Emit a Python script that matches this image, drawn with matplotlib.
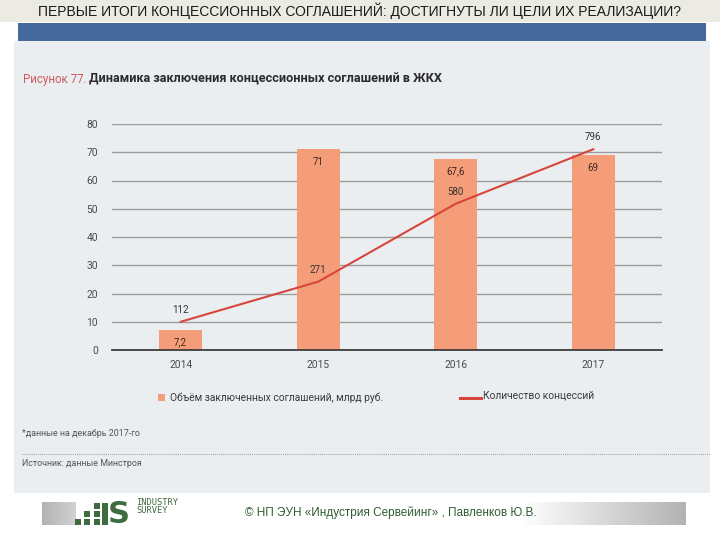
import numpy as np
import matplotlib
matplotlib.use("Agg")
import matplotlib.pyplot as plt
from matplotlib.patches import Rectangle
from matplotlib.lines import Line2D

plt.rcParams["font.family"] = ["Roboto", "DejaVu Sans"]

# ── данные ──────────────────────────────────────────────────────────────
years = ["2014", "2015", "2016", "2017"]
volume = [7.2, 71, 67.6, 69]          # млрд руб.
count = [112, 271, 580, 796]          # количество концессий
y_ticks = [0, 10, 20, 30, 40, 50, 60, 70, 80]

header = "ПЕРВЫЕ ИТОГИ КОНЦЕССИОННЫХ СОГЛАШЕНИЙ: ДОСТИГНУТЫ ЛИ ЦЕЛИ ИХ РЕАЛИЗАЦИИ?"
fig_no = "Рисунок 77."
title = "Динамика заключения концессионных соглашений в ЖКХ"
legend_bar = "Объём заключенных соглашений, млрд руб."
legend_line = "Количество концессий"
note = "*данные на декабрь 2017-го"
source = "Источник: данные Минстроя"
copyright_txt = "© НП ЭУН «Индустрия Сервейинг» , Павленков Ю.В."

_BAR = "#f59d79"
_LINE = "#d8453d"
_PANEL = "#ebeef0"
_GRID = "#9c9c9c"
_TXT = "#4a4a4a"

W, H = 720, 540


def fx(x):
    return x / W


def fy(y):
    return 1 - y / H


def rect(x0, y0, x1, y1, **kw):
    fig.patches.append(Rectangle((fx(x0), fy(y1)), fx(x1) - fx(x0), fy(y0) - fy(y1),
                                 transform=fig.transFigure, **kw))


fig = plt.figure(figsize=(7.2, 5.4), dpi=100, facecolor="white")

# ── шапка слайда (фон — под осями) ────────────────────────────────────
rect(0, 0, 720, 22, facecolor="#ecebe3", edgecolor="none", zorder=-5)
fig.text(fx(360), fy(11), header, ha="center", va="center", fontsize=10,
         color="#1a1a1a", family=["Liberation Sans Narrow", "Liberation Sans", "DejaVu Sans"])
rect(18, 23, 706, 41, facecolor="#45699a", edgecolor="none", zorder=-5)
rect(14, 41, 710, 493, facecolor=_PANEL, edgecolor="none", zorder=-5)

# ── заголовок рисунка ──────────────────────────────────────────────────
fig.text(fx(23), fy(79), fig_no, ha="left", va="center", fontsize=8.3, color="#d0595c")
fig.text(fx(89), fy(79), title, ha="left", va="center", fontsize=9.1,
         color="#2b2b2b", fontweight="bold")

# ── основной график ────────────────────────────────────────────────────
ax = fig.add_axes([fx(112), fy(350), fx(662) - fx(112), fy(124) - fy(350)])
ax.set_facecolor("none")
x = np.arange(len(years))
ax.bar(x, volume, width=0.31, color=_BAR, zorder=3)
ax.set_xlim(-0.5, len(years) - 0.5)
ax.set_ylim(0, 80)
ax.set_yticks(y_ticks)
ax.set_xticks(x)
ax.set_xticklabels(years)
ax.yaxis.grid(True, color=_GRID, linewidth=1.0, zorder=0)
ax.set_axisbelow(True)
for side in ("top", "right", "left"):
    ax.spines[side].set_visible(False)
ax.spines["bottom"].set_color("#3c3c3c")
ax.spines["bottom"].set_linewidth(1.3)
ax.spines["bottom"].set_zorder(4)
ax.tick_params(axis="both", length=0, labelsize=7.4, colors=_TXT)
ax.tick_params(axis="y", pad=10)
ax.tick_params(axis="x", pad=7)

for xi, v in zip(x, volume):
    ax.annotate(f"{v:g}".replace(".", ","), (xi, v), xytext=(0, -9), textcoords="offset points",
                ha="center", va="center", fontsize=7, color="#3a2a20", zorder=5)

# количество концессий — на скрытой второй оси (0..896)
ax2 = ax.twinx()
ax2.set_ylim(0, 896)
ax2.axis("off")
ax2.plot(x, count, color=_LINE, linewidth=1.5, zorder=4)
for xi, c in zip(x, count):
    ax2.annotate(str(c), (xi, c), xytext=(0, 8.5), textcoords="offset points",
                 ha="center", va="center", fontsize=7, color="#333333", zorder=5)

# ── легенда ────────────────────────────────────────────────────────────
rect(158, 394, 165, 401, facecolor=_BAR, edgecolor="none", zorder=2)
fig.text(fx(170), fy(398), legend_bar, ha="left", va="center", fontsize=7.4, color="#3a3a3a")
fig.lines.append(Line2D([fx(460), fx(481)], [fy(398), fy(398)], transform=fig.transFigure,
                        color=_LINE, linewidth=2.2))
fig.text(fx(483), fy(396), legend_line, ha="left", va="center", fontsize=7.4, color="#3a3a3a")

# ── примечания ─────────────────────────────────────────────────────────
fig.text(fx(22), fy(434), note, ha="left", va="center", fontsize=6.4, color="#555555")
fig.lines.append(Line2D([fx(22), fx(710)], [fy(454), fy(454)], transform=fig.transFigure,
                        color="#9a9a9a", linewidth=0.7, linestyle=(0, (1, 1))))
fig.text(fx(22), fy(464), source, ha="left", va="center", fontsize=6.4, color="#555555")

# ── подвал ─────────────────────────────────────────────────────────────
cols = np.arange(42, 686)
shade = np.ones(cols.size)
left = cols < 76
shade[left] = 0.70 + 0.12 * (cols[left] - 42) / 34
right = cols > 520
shade[right] = 1 - 0.30 * (cols[right] - 520) / 165
gax = fig.add_axes([fx(42), fy(525), fx(686) - fx(42), fy(502) - fy(525)], zorder=-1)
gax.imshow(np.tile(shade, (2, 1)), cmap="gray", vmin=0, vmax=1, aspect="auto",
           interpolation="bilinear")
gax.axis("off")

_LOGO = "#3e6b3f"
for (lx, ly) in [(97, 506), (87, 514), (97, 514), (78, 522), (87, 522), (97, 522)]:
    rect(lx - 2.6, ly - 2.6, lx + 2.6, ly + 2.6, facecolor=_LOGO, edgecolor="none", zorder=3)
rect(102, 503, 108, 525, facecolor=_LOGO, edgecolor="none", zorder=3)
fig.text(fx(108), fy(514.5), "S", ha="left", va="center", fontsize=22, fontweight="bold",
         color=_LOGO, family=["DejaVu Sans"], zorder=3)
fig.text(fx(136), fy(498), "INDUSTRY\nSURVEY", ha="left", va="top", fontsize=6.3,
         linespacing=0.85, color=_LOGO, family=["DejaVu Sans Mono"], zorder=3)
fig.text(fx(245), fy(513), copyright_txt, ha="left", va="center", fontsize=8.5,
         color="#2f5e2f", family=["Liberation Sans Narrow", "Liberation Sans", "DejaVu Sans"])

fig.savefig("out.png", dpi=100, facecolor="white")
